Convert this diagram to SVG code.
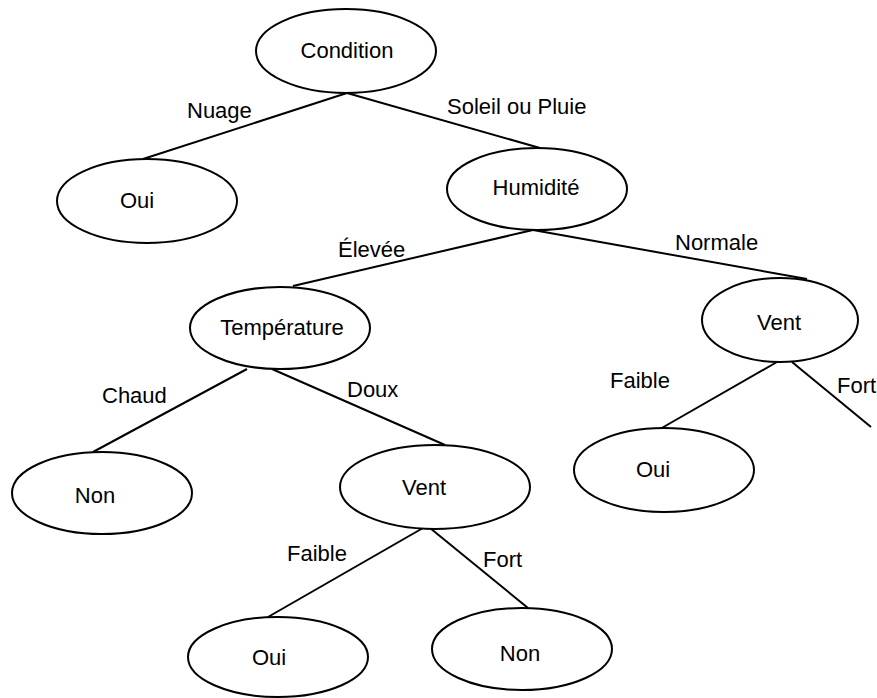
<svg xmlns="http://www.w3.org/2000/svg" width="877" height="698" viewBox="0 0 877 698">
<style>
.n ellipse{fill:#fff;stroke:#000;stroke-width:2}
.n text{font-family:"Liberation Sans",Arial,sans-serif;font-size:22px;fill:#000;text-anchor:middle}
.e line{stroke:#000;stroke-width:2}
.l text{font-family:"Liberation Sans",Arial,sans-serif;font-size:22px;fill:#000}
</style>
<rect width="877" height="698" fill="#fff"/>
<g id="edges" class="e">
<line x1="347" y1="93" x2="143" y2="159"/>
<line x1="347" y1="93" x2="540" y2="148"/>
<line x1="533" y1="230" x2="293" y2="286"/>
<line x1="533" y1="230" x2="807" y2="279"/>
<line x1="247" y1="369" x2="93" y2="452"/>
<line x1="272" y1="369" x2="445" y2="445"/>
<line x1="777" y1="362" x2="660" y2="429"/>
<line x1="792" y1="362" x2="871" y2="427"/>
<line x1="423" y1="528" x2="268" y2="617"/>
<line x1="430" y1="528" x2="528" y2="608"/>
</g>
<g id="edge-labels" class="l">
<text x="187" y="118">Nuage</text>
<text x="447" y="114">Soleil ou Pluie</text>
<text x="338" y="257">Élevée</text>
<text x="675" y="250">Normale</text>
<text x="102" y="403">Chaud</text>
<text x="347" y="397">Doux</text>
<text x="610" y="388">Faible</text>
<text x="837" y="393">Fort</text>
<text x="287" y="561">Faible</text>
<text x="483" y="567">Fort</text>
</g>
<g id="condition" class="n"><ellipse cx="346" cy="51" rx="90" ry="42"/><text x="347" y="58">Condition</text></g>
<g id="oui1" class="n"><ellipse cx="147" cy="201" rx="90" ry="42"/><text x="137" y="208">Oui</text></g>
<g id="humidite" class="n"><ellipse cx="537" cy="189" rx="90" ry="41"/><text x="536" y="195">Humidité</text></g>
<g id="temperature" class="n"><ellipse cx="280" cy="328" rx="90" ry="41"/><text x="282" y="335">Température</text></g>
<g id="vent1" class="n"><ellipse cx="780" cy="320" rx="78" ry="42"/><text x="779" y="330">Vent</text></g>
<g id="oui2" class="n"><ellipse cx="664" cy="470" rx="90" ry="42"/><text x="653" y="477">Oui</text></g>
<g id="non1" class="n"><ellipse cx="102" cy="493" rx="90" ry="41"/><text x="95" y="503">Non</text></g>
<g id="vent2" class="n"><ellipse cx="435" cy="487" rx="95" ry="42"/><text x="424" y="495">Vent</text></g>
<g id="oui3" class="n"><ellipse cx="278" cy="657" rx="90" ry="40"/><text x="269" y="665">Oui</text></g>
<g id="non2" class="n"><ellipse cx="522" cy="649" rx="90" ry="41"/><text x="520" y="661">Non</text></g>
</svg>
